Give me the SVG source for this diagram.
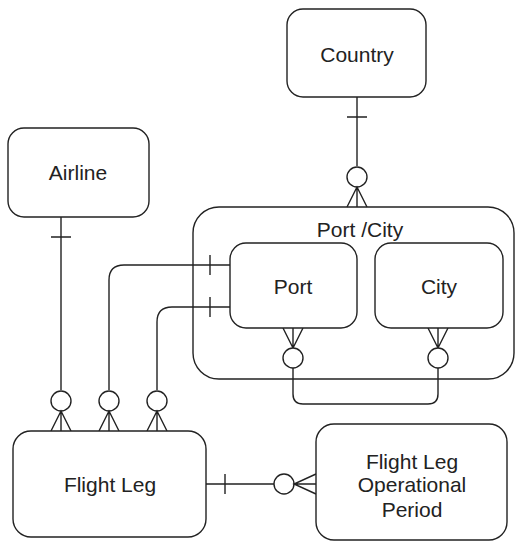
<svg xmlns="http://www.w3.org/2000/svg" width="515" height="543" viewBox="0 0 515 543">
<style>
.box{fill:#fff;stroke:#222;stroke-width:1.4}
.ln{fill:none;stroke:#222;stroke-width:1.4}
.ci{fill:#fff;stroke:#222;stroke-width:1.4}
text{font-family:"Liberation Sans",Arial,sans-serif;font-size:21px;fill:#222;text-anchor:middle}
</style>
<rect width="515" height="543" fill="#fff"/>
<g id="port-city">
<rect class="box" x="193" y="207" width="321" height="172" rx="26"/>
<text x="360" y="237">Port /City</text>
</g>
<g id="country">
<rect class="box" x="287" y="9" width="139" height="88" rx="16"/>
<text x="357" y="62">Country</text>
</g>
<g id="airline">
<rect class="box" x="8" y="128" width="141" height="89" rx="16"/>
<text x="78" y="180">Airline</text>
</g>
<g id="connectors">
<path class="ln" d="M357 97V166M347 117H367"/>
<circle class="ci" cx="357" cy="177" r="10"/>
<path class="ln" d="M357 187V207M347 207L357 187L367 207"/>
<path class="ln" d="M61 217V390M51 237H71"/>
<circle class="ci" cx="61" cy="401" r="10"/>
<path class="ln" d="M61 411V431M51 431L61 411L71 431"/>
<path class="ln" d="M230 265H124Q109 265 109 280V390M210 255V275"/>
<circle class="ci" cx="109" cy="401" r="10"/>
<path class="ln" d="M109 411V431M99 431L109 411L119 431"/>
<path class="ln" d="M230 307H172Q157 307 157 322V390M210 297V317"/>
<circle class="ci" cx="157" cy="401" r="10"/>
<path class="ln" d="M157 411V431M147 431L157 411L167 431"/>
<path class="ln" d="M293 328V348M283 328L293 348L303 328"/>
<circle class="ci" cx="293" cy="358" r="10"/>
<path class="ln" d="M438 328V348M428 328L438 348L448 328"/>
<circle class="ci" cx="438" cy="358" r="10"/>
<path class="ln" d="M293 368V394Q293 404 303 404H428Q438 404 438 394V368"/>
<path class="ln" d="M206 484H274M225 474V494"/>
<circle class="ci" cx="284" cy="484" r="10"/>
<path class="ln" d="M294 484H316M316 474L294 484L316 494"/>
</g>
<g id="port">
<rect class="box" x="230" y="243" width="127" height="85" rx="16"/>
<text x="293" y="294">Port</text>
</g>
<g id="city">
<rect class="box" x="375" y="243" width="128" height="85" rx="16"/>
<text x="439" y="294">City</text>
</g>
<g id="flight-leg">
<rect class="box" x="13" y="431" width="193" height="106" rx="18"/>
<text x="110" y="492">Flight Leg</text>
</g>
<g id="flight-leg-operational-period">
<rect class="box" x="316" y="424" width="191" height="116" rx="18"/>
<text x="412" y="469">Flight Leg</text>
<text x="412" y="492">Operational</text>
<text x="412" y="517">Period</text>
</g>
</svg>
